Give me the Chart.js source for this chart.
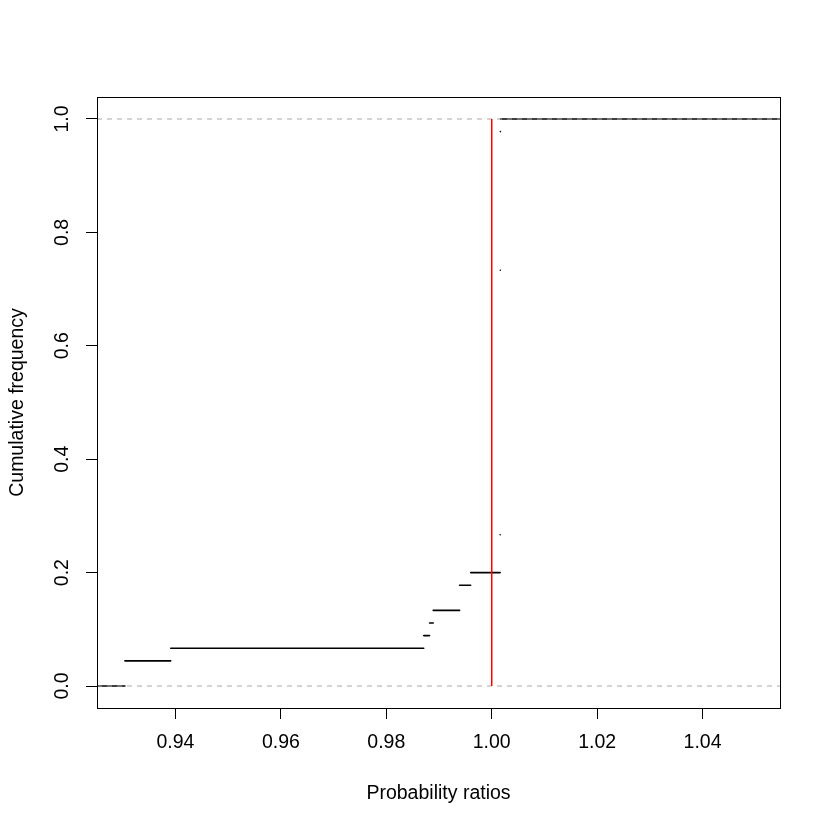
<!DOCTYPE html>
<html lang="en">
<head>
    <meta charset="UTF-8">
    <title>Cumulative frequency of probability ratios</title>
    <script src="https://cdn.jsdelivr.net/npm/chart.js"></script>
    <style>
        body { margin: 0; background: #fff; }
    </style>
</head>
<body>
    <canvas id="ecdfChart" width="830" height="830"></canvas>

    <script>
        // step positions (knots) and the cumulative frequency after each knot
        const knots = [0.9304, 0.9391, 0.9871, 0.9882, 0.9889, 0.9939, 0.9960, 1.0016, 1.00162, 1.00164, 1.00166];
        const cumFreq = [0.0444, 0.0667, 0.0889, 0.1111, 0.1333, 0.1778, 0.2, 0.2667, 0.7333, 0.9778, 1.0];
        const xTicks = [0.94, 0.96, 0.98, 1.00, 1.02, 1.04];
        const yTicks = [0.0, 0.2, 0.4, 0.6, 0.8, 1.0];
        const refLines = [0, 1];
        const ratioOne = 1.0;

        const xMin = 0.92511, xMax = 1.05469;
        const yMin = -0.0388, yMax = 1.0388;

        const datasets = [];

        // horizontal step segments (ecdf without verticals)
        const starts = [xMin - 0.01].concat(knots);
        const levels = [0].concat(cumFreq);
        for (let i = 0; i < starts.length; i++) {
            const end = i + 1 < starts.length ? starts[i + 1] : xMax + 0.01;
            datasets.push({
                data: [{ x: starts[i], y: levels[i] }, { x: end, y: levels[i] }],
                borderColor: '#000000',
                borderWidth: 1.6,
                borderCapStyle: 'round',
                order: 3
            });
        }

        // grey dashed reference lines at 0 and 1
        refLines.forEach(v => {
            datasets.push({
                data: [{ x: xMin, y: v }, { x: xMax, y: v }],
                borderColor: '#a9a9a9',
                borderWidth: 1.2,
                borderDash: [5, 5],
                order: 2
            });
        });

        // red vertical line at ratio 1
        datasets.push({
            data: [{ x: ratioOne, y: 0 }, { x: ratioOne, y: 1 }],
            borderColor: '#ff0000',
            borderWidth: 1.5,
            order: 1
        });

        // R style box around the plot region
        const boxPlugin = {
            id: 'box',
            afterDraw(chart) {
                const a = chart.chartArea;
                const ctx = chart.ctx;
                ctx.save();
                ctx.strokeStyle = '#000';
                ctx.lineWidth = 1;
                ctx.strokeRect(Math.round(a.left) + 0.5, Math.round(a.top) + 0.5,
                    Math.round(a.right - a.left), Math.round(a.bottom - a.top));
                ctx.restore();
            }
        };

        const font = { family: 'Liberation Sans, Arial, sans-serif', size: 19.5 };

        new Chart(document.getElementById('ecdfChart').getContext('2d'), {
            type: 'scatter',
            data: { datasets: datasets },
            options: {
                responsive: false,
                animation: false,
                showLine: true,
                elements: { point: { radius: 0, hoverRadius: 0 } },
                layout: { padding: { top: 97, right: 50, left: 0, bottom: 0 } },
                plugins: { legend: { display: false }, tooltip: { enabled: false } },
                scales: {
                    x: {
                        type: 'linear',
                        min: xMin,
                        max: xMax,
                        afterBuildTicks: s => { s.ticks = xTicks.map(v => ({ value: v })); },
                        afterFit: s => { s.height = 122; },
                        ticks: {
                            color: '#000',
                            font: font,
                            padding: 12,
                            callback: v => v.toFixed(2)
                        },
                        grid: { drawOnChartArea: false, drawTicks: true, tickLength: 11, color: '#000' },
                        border: { display: true, color: '#000' },
                        title: {
                            display: true,
                            text: 'Probability ratios',
                            color: '#000',
                            font: font,
                            padding: { top: 0, bottom: 25 }
                        }
                    },
                    y: {
                        type: 'linear',
                        min: yMin,
                        max: yMax,
                        afterBuildTicks: s => { s.ticks = yTicks.map(v => ({ value: v })); },
                        afterFit: s => { s.width = 97; },
                        ticks: {
                            color: '#000',
                            font: font,
                            padding: 10,
                            minRotation: 90,
                            maxRotation: 90,
                            crossAlign: 'center',
                            callback: v => v.toFixed(1)
                        },
                        grid: { drawOnChartArea: false, drawTicks: true, tickLength: 11, color: '#000' },
                        border: { display: true, color: '#000' },
                        title: {
                            display: true,
                            text: 'Cumulative frequency',
                            color: '#000',
                            font: font,
                            padding: { top: 6, bottom: 0 }
                        }
                    }
                }
            },
            plugins: [boxPlugin]
        });
    </script>
</body>
</html>
